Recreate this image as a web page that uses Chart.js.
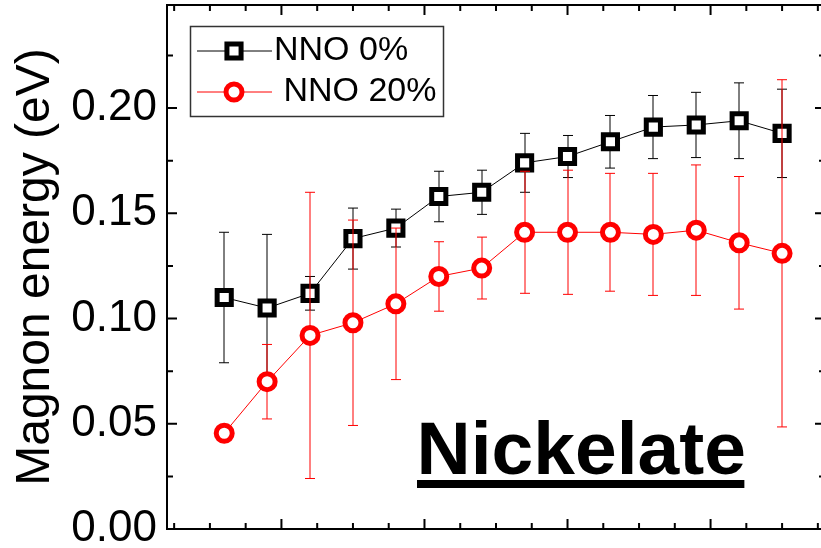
<!DOCTYPE html>
<html>
<head>
<meta charset="utf-8">
<script src="https://cdn.jsdelivr.net/npm/chart.js@4.4.1/dist/chart.umd.min.js"></script>
<style>
  html, body { margin: 0; padding: 0; background: #fff; overflow: hidden; }
  canvas { display: block; }
</style>
</head>
<body>
<canvas id="c" width="830" height="548"></canvas>
<script>
// Momentum transfer of each measured point (same for both samples)
const qValues = [0.06, 0.09, 0.12, 0.15, 0.18, 0.21, 0.24, 0.27, 0.30, 0.33, 0.36, 0.39, 0.42, 0.45];

// Magnon energies (eV) and their error bars
const nno0    = [0.110, 0.105, 0.112, 0.138, 0.143, 0.158, 0.160, 0.174, 0.177, 0.184, 0.191, 0.192, 0.194, 0.188];
const nno0Err = [0.031, 0.035, 0.008, 0.0145, 0.009, 0.012, 0.0105, 0.014, 0.010, 0.0125, 0.015, 0.0155, 0.018, 0.021];
const nno20    = [0.0455, 0.070, 0.092, 0.098, 0.107, 0.120, 0.124, 0.141, 0.141, 0.141, 0.140, 0.142, 0.136, 0.131];
const nno20Err = [0, 0.0177, 0.068, 0.0488, 0.036, 0.0165, 0.0147, 0.029, 0.0295, 0.028, 0.029, 0.031, 0.0315, 0.0825];

const seriesLabels = ['NNO 0%', ' NNO 20%'];
const yTickValues = [0.00, 0.05, 0.10, 0.15, 0.20];
const yTitle = 'Magnon energy (eV)';
const panelLabel = 'Nickelate';

const FONT = '"Liberation Sans", Arial, Helvetica, sans-serif';

function points(vals) {
  return qValues.map((q, i) => ({ x: q, y: vals[i] }));
}

// Vertical error bars with caps, drawn just before each dataset's line and markers
const errorBars = {
  id: 'errorBars',
  beforeDatasetDraw(chart, args) {
    const ds = chart.data.datasets[args.index];
    if (!ds.errors) return;
    const { ctx, scales: { x, y } } = chart;
    ctx.save();
    ctx.strokeStyle = ds.borderColor;
    ctx.lineWidth = 1;
    ds.data.forEach((p, i) => {
      const e = ds.errors[i];
      if (!e) return;
      const px = Math.round(x.getPixelForValue(p.x));
      const yt = y.getPixelForValue(p.y + e);
      const yb = y.getPixelForValue(p.y - e);
      ctx.beginPath();
      ctx.moveTo(px, yt); ctx.lineTo(px, yb);
      ctx.moveTo(px - 5, yt); ctx.lineTo(px + 5, yt);
      ctx.moveTo(px - 5, yb); ctx.lineTo(px + 5, yb);
      ctx.stroke();
    });
    ctx.restore();
  }
};

// Closed frame with inward major/minor ticks on all four sides
const frameTicks = {
  id: 'frameTicks',
  afterDraw(chart) {
    const { ctx, chartArea: a, scales: { x, y } } = chart;
    ctx.save();
    ctx.strokeStyle = '#000';
    ctx.lineWidth = 2;
    ctx.beginPath();
    ctx.moveTo(a.left - 1, a.top); ctx.lineTo(a.right + 1, a.top);
    ctx.moveTo(a.right, a.top); ctx.lineTo(a.right, a.bottom);
    for (let k = 1; k <= 19; k++) {
      const v = k * 0.025;
      if (v <= x.min || v >= x.max) continue;
      const px = x.getPixelForValue(v);
      const len = (k % 4 === 0) ? 10 : 6;
      ctx.moveTo(px, a.bottom); ctx.lineTo(px, a.bottom - len);
      ctx.moveTo(px, a.top); ctx.lineTo(px, a.top + len);
    }
    for (let k = 1; k <= 9; k++) {
      const v = k * 0.025;
      if (v >= y.max) continue;
      const py = y.getPixelForValue(v);
      const len = (k % 2 === 0) ? 10 : 6;
      ctx.moveTo(a.left, py); ctx.lineTo(a.left + len, py);
      ctx.moveTo(a.right, py); ctx.lineTo(a.right - len, py);
    }
    ctx.stroke();
    ctx.restore();
  }
};

// Boxed legend inside the plot and the underlined panel label
const insetLegend = {
  id: 'insetLegend',
  afterDraw(chart) {
    const { ctx } = chart;
    ctx.save();
    ctx.strokeStyle = '#333';
    ctx.lineWidth = 1.5;
    ctx.strokeRect(190.5, 26.5, 253, 90);
    const rows = [51, 92];
    chart.data.datasets.forEach((ds, i) => {
      const ry = rows[i];
      ctx.strokeStyle = ds.borderColor;
      ctx.lineWidth = 1;
      ctx.beginPath();
      ctx.moveTo(197, ry); ctx.lineTo(272, ry);
      ctx.stroke();
      ctx.fillStyle = '#fff';
      ctx.strokeStyle = ds.pointBorderColor;
      ctx.lineWidth = ds.pointBorderWidth;
      ctx.beginPath();
      if (ds.pointStyle === 'rect') {
        const h = Math.SQRT1_2 * ds.pointRadius;
        ctx.rect(234 - h, ry - h, 2 * h, 2 * h);
      } else {
        ctx.arc(234, ry, ds.pointRadius, 0, Math.PI * 2);
      }
      ctx.fill();
      ctx.stroke();
      ctx.fillStyle = '#000';
      ctx.font = '34px ' + FONT;
      ctx.textAlign = 'left';
      ctx.textBaseline = 'middle';
      ctx.fillText(ds.label, 274, ry);
    });

    ctx.fillStyle = '#000';
    ctx.font = 'bold 75px ' + FONT;
    ctx.textAlign = 'left';
    ctx.textBaseline = 'alphabetic';
    ctx.fillText(panelLabel, 416.5, 474);
    const w = ctx.measureText(panelLabel).width;
    ctx.fillRect(417, 480, w - 2, 8);
    ctx.restore();
  }
};

new Chart(document.getElementById('c'), {
  type: 'line',
  data: {
    datasets: [
      {
        label: seriesLabels[0],
        data: points(nno0),
        errors: nno0Err,
        borderColor: '#000000',
        borderWidth: 1,
        pointStyle: 'rect',
        pointRadius: 10,
        pointBorderWidth: 5,
        pointBorderColor: '#000000',
        pointBackgroundColor: '#fff',
        tension: 0,
        order: 2
      },
      {
        label: seriesLabels[1],
        data: points(nno20),
        errors: nno20Err,
        borderColor: '#ff0000',
        borderWidth: 1,
        pointStyle: 'circle',
        pointRadius: 8,
        pointBorderWidth: 5,
        pointBorderColor: '#ff0000',
        pointBackgroundColor: '#fff',
        tension: 0,
        order: 1
      }
    ]
  },
  options: {
    responsive: false,
    animation: false,
    events: [],
    layout: { autoPadding: false, padding: { top: 5, right: 5, left: 0, bottom: 0 } },
    plugins: {
      legend: { display: false },
      tooltip: { enabled: false }
    },
    scales: {
      x: {
        type: 'linear',
        min: 0.02,
        max: 0.48,
        ticks: { display: false },
        grid: { drawOnChartArea: false, drawTicks: false },
        border: { display: true, color: '#000', width: 2 },
        afterFit(s) { s.height = 19; s.paddingLeft = 0; s.paddingRight = 0; }
      },
      y: {
        type: 'linear',
        min: 0,
        max: 0.249,
        afterBuildTicks(s) { s.ticks = yTickValues.map(v => ({ value: v })); },
        ticks: {
          padding: 10,
          color: '#000',
          font: { family: FONT, size: 44 },
          callback: v => Number(v).toFixed(2)
        },
        title: {
          display: true,
          text: yTitle,
          color: '#000',
          font: { family: FONT, size: 48 },
          padding: { top: 7, bottom: 0 }
        },
        grid: { drawOnChartArea: false, drawTicks: false },
        border: { display: true, color: '#000', width: 2 },
        afterFit(s) { s.width = 167; s.paddingTop = 0; s.paddingBottom = 0; }
      }
    }
  },
  plugins: [errorBars, frameTicks, insetLegend]
});
</script>
</body>
</html>
